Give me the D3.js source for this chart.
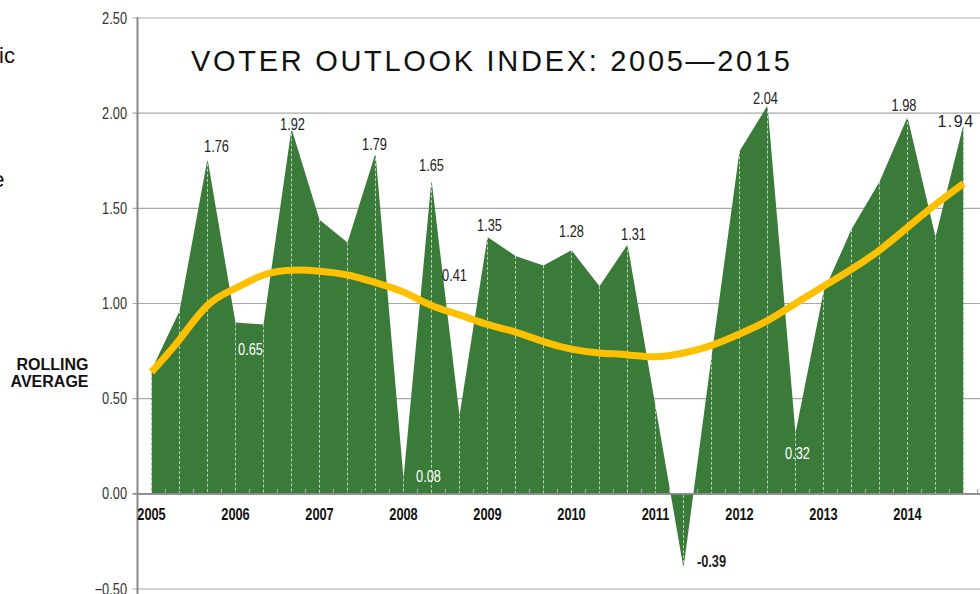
<!DOCTYPE html>
<html>
<head>
<meta charset="utf-8">
<script src="https://cdn.jsdelivr.net/npm/d3@7"></script>
<style>
  body { margin: 0; background: #fff; }
  svg { display: block; }
  text { font-family: "Liberation Sans", Arial, sans-serif; }
</style>
</head>
<body>
<div id="chart"></div>
<script>

// periods: three readings per year, 2005 - 2014
var periods = [];
var years = ["2005", "2006", "2007", "2008", "2009", "2010", "2011", "2012", "2013", "2014"];
years.forEach(function(y) {
  periods.push(y + "-1", y + "-2", y + "-3");
});

// voter outlook index per period
var indexValues = [0.65, 0.96, 1.76, 0.90, 0.89, 1.92, 1.44, 1.32, 1.79, 0.08,
                   1.65, 0.41, 1.35, 1.25, 1.20, 1.28, 1.09, 1.31, 0.46, -0.39,
                   0.72, 1.80, 2.04, 0.32, 1.06, 1.39, 1.64, 1.98, 1.35, 1.94];

// rolling average
var rollingValues = [0.64, 0.81, 0.99, 1.08, 1.15, 1.175, 1.17, 1.15, 1.11, 1.06,
                     0.99, 0.94, 0.89, 0.85, 0.80, 0.76, 0.74, 0.73, 0.72, 0.74,
                     0.78, 0.84, 0.91, 1.00, 1.09, 1.18, 1.28, 1.40, 1.52, 1.63];

var yTicks = [-0.5, 0, 0.5, 1, 1.5, 2, 2.5];

// value labels: which point, text
var labelIndex = [2, 5, 8, 10, 11, 3, 9, 12, 15, 17, 19, 22, 23, 27, 29];
var labelText = ["1.76", "1.92", "1.79", "1.65", "0.41", "0.65", "0.08", "1.35",
                 "1.28", "1.31", "-0.39", "2.04", "0.32", "1.98", "1.94"];

var svgWidth = 980;
var svgHeight = 594;
var narrow = 0.8;   // no condensed face installed, squeeze horizontally

var svg = d3.select("#chart")
  .append("svg")
  .attr("width", svgWidth)
  .attr("height", svgHeight);

// scales
var xScale = d3.scaleBand()
  .domain(periods)
  .range([137.5, 977.5])
  .padding(0);

var bw = xScale.bandwidth();
var xc = function(p) { return xScale(p) + bw / 2; };

var yScale = d3.scaleLinear()
  .domain([-0.5, 2.5])
  .range([589, 18]);

var data = periods.map(function(p, i) {
  return { period: p, value: indexValues[i], avg: rollingValues[i] };
});

// gridlines with left tick stubs
svg.append("g")
  .selectAll("line")
  .data(yTicks)
  .enter()
  .append("line")
  .attr("x1", 132.5)
  .attr("x2", svgWidth)
  .attr("y1", d => yScale(d))
  .attr("y2", d => yScale(d))
  .attr("stroke", d => d === 0 ? "#8c8c8c" : "#a9a9a9")
  .attr("stroke-width", d => d === 0 ? 1.6 : 1.2);

// y tick labels
svg.append("g")
  .selectAll("text")
  .data(yTicks)
  .enter()
  .append("text")
  .attr("transform", d => `translate(127, ${yScale(d) + 5.5}) scale(${narrow}, 1)`)
  .attr("text-anchor", "end")
  .attr("font-size", "16px")
  .attr("fill", "#333")
  .text(d => d3.format(".2f")(d));

// green area
var area = d3.area()
  .x(d => xc(d.period))
  .y0(yScale(0))
  .y1(d => yScale(d.value));

svg.append("path")
  .datum(data)
  .attr("d", area)
  .attr("fill", "#3a7b3a");

// dashed drop lines
svg.append("g")
  .selectAll("line")
  .data(data)
  .enter()
  .append("line")
  .attr("x1", d => xc(d.period))
  .attr("x2", d => xc(d.period))
  .attr("y1", d => yScale(d.value))
  .attr("y2", yScale(0))
  .attr("stroke", "rgba(255,255,255,0.65)")
  .attr("stroke-width", 1)
  .attr("stroke-dasharray", "3,2");

// x tick marks between periods
var tickPos = periods.slice(1).map(p => xScale(p)).concat([xScale.range()[1]]);
svg.append("g")
  .selectAll("line")
  .data(tickPos)
  .enter()
  .append("line")
  .attr("x1", d => d)
  .attr("x2", d => d)
  .attr("y1", yScale(0) - 5)
  .attr("y2", yScale(0))
  .attr("stroke", "#a9a9a9")
  .attr("stroke-width", 1);

// baseline again over the area
svg.append("line")
  .attr("x1", 137.5)
  .attr("x2", svgWidth)
  .attr("y1", yScale(0))
  .attr("y2", yScale(0))
  .attr("stroke", "#8c8c8c")
  .attr("stroke-width", 1.6);

// y axis line
svg.append("line")
  .attr("x1", 137.5)
  .attr("x2", 137.5)
  .attr("y1", yScale(2.5) - 1)
  .attr("y2", svgHeight)
  .attr("stroke", "#888")
  .attr("stroke-width", 2);

// rolling average
var line = d3.line()
  .x(d => xc(d.period))
  .y(d => yScale(d.avg))
  .curve(d3.curveNatural);

svg.append("path")
  .datum(data)
  .attr("d", line)
  .attr("fill", "none")
  .attr("stroke", "#ffc000")
  .attr("stroke-width", 7);

// year labels
svg.append("g")
  .selectAll("text")
  .data(years)
  .enter()
  .append("text")
  .attr("transform", d => `translate(${xc(d + "-1")}, 519.5) scale(${narrow}, 1)`)
  .attr("text-anchor", "middle")
  .attr("font-size", "16px")
  .attr("font-weight", "bold")
  .attr("fill", "#111")
  .text(d => d);

// value labels, offsets from their point
var labelDx = [9, 1, -1, 0, -5, 15, 25, 2, 0, 6, 28, -2, 2, -3.5, -7.5];
var labelDy = [-7, 1.5, -3, -9, -135, 32, 3.5, -6, -13, -4.5, -1.5, -1.5, 26, -6, 2.5];
var whiteLabels = ["0.65", "0.08", "0.32"];

svg.append("g")
  .selectAll("text")
  .data(labelText)
  .enter()
  .append("text")
  .attr("transform", function(d, i) {
    var x = xc(periods[labelIndex[i]]) + labelDx[i];
    var y = yScale(indexValues[labelIndex[i]]) + labelDy[i];
    var sx = d === "1.94" ? 1 : narrow;
    return `translate(${x}, ${y}) scale(${sx}, 1)`;
  })
  .attr("text-anchor", "middle")
  .attr("font-size", d => d === "1.94" ? "16px" : "16px")
  .attr("letter-spacing", d => d === "1.94" ? "1.5px" : null)
  .attr("font-weight", d => d === "-0.39" ? "bold" : "normal")
  .attr("fill", d => whiteLabels.indexOf(d) >= 0 ? "#fff" : "#222")
  .text(d => d);

// title
svg.append("text")
  .attr("x", 191)
  .attr("y", 70.5)
  .attr("font-size", "29px")
  .attr("letter-spacing", "2.7px")
  .attr("fill", "#111")
  .text("VOTER OUTLOOK INDEX: 2005\u20142015");

// side captions (cut off at the left edge)
svg.append("text")
  .attr("x", 15)
  .attr("y", 63)
  .attr("text-anchor", "end")
  .attr("font-size", "22px")
  .attr("fill", "#111")
  .text("ic");

svg.append("text")
  .attr("x", 4.5)
  .attr("y", 187)
  .attr("text-anchor", "end")
  .attr("font-size", "22px")
  .attr("fill", "#111")
  .text("e");

var legend = svg.append("text")
  .attr("text-anchor", "end")
  .attr("font-size", "16px")
  .attr("font-weight", "bold")
  .attr("fill", "#111");

legend.append("tspan").attr("x", 88.5).attr("y", 370).text("ROLLING");
legend.append("tspan").attr("x", 88.5).attr("y", 387).text("AVERAGE");

</script>
</body>
</html>
